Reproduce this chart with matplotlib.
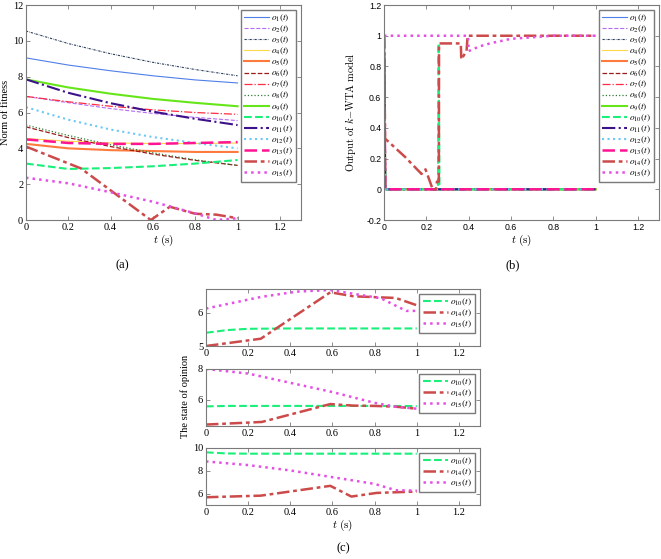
import numpy as np
import matplotlib.pyplot as plt
from matplotlib.ticker import FormatStrFormatter
from matplotlib.font_manager import FontProperties

plt.rcParams['mathtext.fontset'] = 'cm'
plt.rcParams['font.family'] = 'Liberation Serif'

# ---- panel (a): norm of fitness ----
t_fit = [0, 0.2, 0.4, 0.6, 0.8, 1.0]
fit_o1 = [9.05, 8.65, 8.33, 8.05, 7.82, 7.65]
fit_o2 = [6.9, 6.55, 6.22, 5.95, 5.73, 5.55]
fit_o3 = [10.55, 9.85, 9.28, 8.8, 8.4, 8.05]
fit_o4 = [4.55, 4.4, 4.3, 4.27, 4.27, 4.3]
fit_o5 = [4.25, 4.0, 3.9, 3.85, 3.8, 3.8]
fit_o6 = [5.2, 4.6, 4.1, 3.68, 3.33, 3.05]
fit_o7 = [6.9, 6.6, 6.35, 6.15, 6.0, 5.9]
fit_o8 = [5.3, 4.72, 4.2, 3.75, 3.36, 3.05]
fit_o9 = [7.85, 7.4, 7.05, 6.76, 6.54, 6.35]
fit_o10 = [3.15, 2.85, 2.9, 3.0, 3.15, 3.35]
fit_o11 = [7.85, 7.1, 6.52, 6.05, 5.65, 5.3]
fit_o12 = [6.3, 5.6, 5.05, 4.63, 4.3, 4.0]
fit_o13 = [4.5, 4.3, 4.25, 4.25, 4.3, 4.35]
t_fit14 = [0, 0.26, 0.59, 0.68, 0.8, 0.9, 1.0]
fit_o14 = [4.1, 2.88, 0.0, 0.74, 0.35, 0.3, 0.1]
t_fit15 = [0, 0.2, 0.4, 0.6, 0.8, 0.9, 1.0]
fit_o15 = [2.36, 2.05, 1.55, 1.02, 0.37, 0.0, 0.1]

# ---- panel (b): k-WTA output ----
t_off = [0, 0.006, 1.0]
wta_off = [1, 0, 0]
t_wta10 = [0, 0.006, 0.255, 0.258, 0.262, 1.0]
wta_o10 = [1, 0, 0, 0.95, 0, 0]
t_wta14 = [0, 0.005, 0.1, 0.177, 0.196, 0.23, 0.245, 0.25, 0.259, 0.26,
           0.363, 0.365, 0.39, 0.395, 1.0]
wta_o14 = [1, 0.33, 0.21, 0.10, 0.13, 0.0, 0.0, 0.05, 0.05, 0.95,
           0.95, 0.846, 0.9, 1.0, 1.0]
t_wta15 = [0, 0.397, 0.4, 0.45, 0.5, 0.6, 0.7, 0.8, 1.0]
wta_o15 = [1, 1, 0.9, 0.93, 0.95, 0.98, 0.99, 1.0, 1.0]

# ---- panel (c): state of opinion ----
t_op = [0, 0.1, 0.2, 0.4, 0.6, 0.8, 1.0]
op1_o10 = [5.4, 5.48, 5.52, 5.53, 5.53, 5.53, 5.53]
t_op1_14 = [0, 0.26, 0.59, 0.7, 0.9, 1.0]
op1_o14 = [5.0, 5.22, 6.62, 6.5, 6.45, 6.23]
t_op1_15 = [0, 0.26, 0.43, 0.59, 0.83, 0.95, 1.0]
op1_o15 = [6.13, 6.48, 6.64, 6.69, 6.44, 6.06, 6.06]

op2_o10 = [5.57, 5.6, 5.6, 5.6, 5.6, 5.6, 5.59]
t_op2_14 = [0, 0.265, 0.59, 0.7, 0.8, 0.9, 1.0]
op2_o14 = [4.39, 4.56, 5.72, 5.62, 5.6, 5.55, 5.42]
t_op2_15 = [0, 0.2, 0.4, 0.6, 0.8, 0.9, 1.0]
op2_o15 = [8.0, 7.7, 7.1, 6.5, 5.8, 5.55, 5.42]

op3_o10 = [9.62, 9.52, 9.5, 9.5, 9.5, 9.5, 9.5]
t_op3_14 = [0, 0.26, 0.59, 0.69, 0.81, 1.0]
op3_o14 = [5.68, 5.82, 6.68, 5.74, 6.06, 6.18]
t_op3_15 = [0, 0.2, 0.4, 0.6, 0.8, 0.9, 1.0]
op3_o15 = [8.82, 8.5, 8.03, 7.44, 6.85, 6.3, 6.26]

# styles: (color, linestyle, linewidth)
styles = [
    ('#4f7fe8', '-', 0.8),
    ('#b56cf5', '--', 0.8),
    ('#2c3e5c', (0, (2, 1, 0.5, 1)), 0.8),
    ('#ffd84a', '-', 0.8),
    ('#ff7a3d', '-', 1.5),
    ('#9b1b1b', '--', 0.9),
    ('#ff2d45', '-.', 0.9),
    ('#2e7d32', ':', 0.9),
    ('#66e619', '-', 1.5),
    ('#19f07a', '--', 1.5),
    ('#3c128a', '-.', 1.5),
    ('#6cc8f5', ':', 1.5),
    ('#ff1493', (0, (5, 2)), 1.8),
    ('#cc4a4a', (0, (5, 1.5, 1.5, 1.5)), 1.8),
    ('#e64fe6', ':', 1.8),
]
labels = [r'$o_{%d}(t)$' % i for i in range(1, 16)]
edge = '#7a7a7a'
leg_font = FontProperties(family='Liberation Serif', size=6.7, math_fontfamily='stix')
leg_kw = dict(loc='upper right', prop=leg_font, labelspacing=0.0, handlelength=2.7,
              handletextpad=0.25, borderpad=0.35, borderaxespad=0.5,
              fancybox=False, framealpha=1, edgecolor=edge)


def style_axes(ax, sans=False):
    for s in ax.spines.values():
        s.set_color(edge)
        s.set_linewidth(0.8)
    ax.tick_params(direction='in', top=True, right=True, length=3, width=0.6,
                   color=edge, pad=2)
    ax.xaxis.set_major_formatter(FormatStrFormatter('%g'))
    ax.yaxis.set_major_formatter(FormatStrFormatter('%g'))
    fam = 'Liberation Sans' if sans else 'Liberation Serif'
    size = 6.3 if sans else 7.5
    for lb in ax.get_xticklabels() + ax.get_yticklabels():
        lb.set_family(fam)
        lb.set_fontsize(size)


fig = plt.figure(figsize=(6.61, 5.59), dpi=100)

# (a)
ax_a = fig.add_axes([0.0393, 0.6064, 0.4161, 0.3846])
fit_series = [fit_o1, fit_o2, fit_o3, fit_o4, fit_o5, fit_o6, fit_o7, fit_o8,
              fit_o9, fit_o10, fit_o11, fit_o12, fit_o13]
for i, y in enumerate(fit_series):
    c, ls, lw = styles[i]
    ax_a.plot(t_fit, y, color=c, linestyle=ls, linewidth=lw, label=labels[i])
c, ls, lw = styles[13]
ax_a.plot(t_fit14, fit_o14, color=c, linestyle=ls, linewidth=lw, label=labels[13])
c, ls, lw = styles[14]
ax_a.plot(t_fit15, fit_o15, color=c, linestyle=ls, linewidth=lw, label=labels[14])
ax_a.set_xlim(0, 1.3)
ax_a.set_ylim(0, 12)
ax_a.set_xticks(np.arange(0, 1.21, 0.2))
ax_a.set_yticks(np.arange(0, 12.1, 2))
style_axes(ax_a)
ax_a.set_ylabel('Norm of fitness', fontsize=7.5)
ax_a.yaxis.set_label_coords(-0.058, 0.5)
ax_a.set_xlabel(r'$t\ \mathrm{(s)}$', fontsize=8, labelpad=1)
ax_a.legend(**leg_kw)

# (b)
ax_b = fig.add_axes([0.581, 0.6064, 0.4161, 0.3846])
for i in range(15):
    c, ls, lw = styles[i]
    if i == 9:
        tt, yy = t_wta10, wta_o10
    elif i == 13:
        tt, yy = t_wta14, wta_o14
    elif i == 14:
        tt, yy = t_wta15, wta_o15
    else:
        tt, yy = t_off, wta_off
    ax_b.plot(tt, yy, color=c, linestyle=ls, linewidth=lw, label=labels[i])
ax_b.set_xlim(0, 1.3)
ax_b.set_ylim(-0.2, 1.2)
ax_b.set_xticks(np.arange(0, 1.21, 0.2))
ax_b.set_yticks(np.arange(-0.2, 1.21, 0.2))
style_axes(ax_b, sans=True)
ax_b.set_ylabel(r'$\mathrm{Output\ of\ }k\mathrm{{-}WTA\ model}$', fontsize=7.5)
ax_b.yaxis.set_label_coords(-0.095, 0.5)
ax_b.set_xlabel(r'$t\ \mathrm{(s)}$', fontsize=8, labelpad=1)
ax_b.legend(**leg_kw)

# (c)
c_rows = [
    ([0.3116, 0.381, 0.4145, 0.102], op1_o10, t_op1_14, op1_o14, t_op1_15, op1_o15, (5, 6.72), [5, 6]),
    ([0.3116, 0.238, 0.4145, 0.102], op2_o10, t_op2_14, op2_o14, t_op2_15, op2_o15, (4.3, 8), [6, 8]),
    ([0.3116, 0.0966, 0.4145, 0.102], op3_o10, t_op3_14, op3_o14, t_op3_15, op3_o15, (5, 10), [6, 8, 10]),
]
c_axes = []
for pos, y10, t14, y14, t15, y15, ylim, yt in c_rows:
    ax = fig.add_axes(pos)
    c, ls, lw = styles[9]
    ax.plot(t_op, y10, color=c, linestyle=ls, linewidth=lw, label=labels[9])
    c, ls, lw = styles[13]
    ax.plot(t14, y14, color=c, linestyle=ls, linewidth=lw, label=labels[13])
    c, ls, lw = styles[14]
    ax.plot(t15, y15, color=c, linestyle=ls, linewidth=lw, label=labels[14])
    ax.set_xlim(0, 1.3)
    ax.set_ylim(*ylim)
    ax.set_xticks(np.arange(0, 1.21, 0.2))
    ax.set_yticks(yt)
    style_axes(ax)
    ax.legend(**leg_kw)
    c_axes.append(ax)
c_axes[-1].set_xlabel(r'$t\ \mathrm{(s)}$', fontsize=8, labelpad=1)
fig.text(0.28, 0.29, 'The state of opinion', rotation=90, fontsize=7.5,
         ha='center', va='center')

fig.text(0.1846, 0.526, '(a)', fontsize=9, ha='center', va='center')
fig.text(0.776, 0.526, '(b)', fontsize=9, ha='center', va='center')
fig.text(0.519, 0.02, '(c)', fontsize=9, ha='center', va='center')

fig.savefig('out.png', dpi=100)
